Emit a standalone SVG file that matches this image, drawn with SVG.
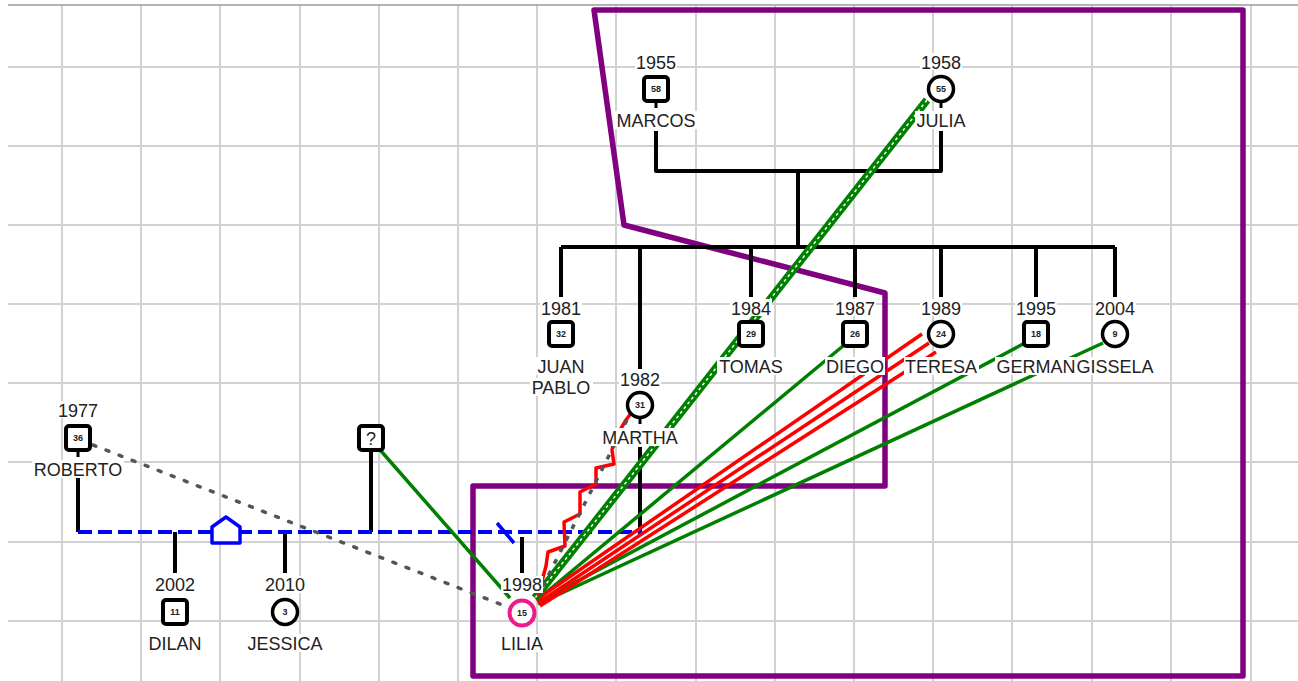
<svg xmlns="http://www.w3.org/2000/svg" width="1298" height="681" viewBox="0 0 1298 681">
<style>
.grid{stroke:#d2d2d2;stroke-width:2;fill:none}
.top{stroke:#9a9a9a;stroke-width:1.5}
.fam{stroke:#000;stroke-width:4;fill:none;stroke-linejoin:round}
.bg{fill:#fff}
.lbl{font-family:"Liberation Sans",Arial,sans-serif;font-size:18px;fill:#222;text-anchor:middle}
.age{font-family:"Liberation Sans",Arial,sans-serif;font-size:9px;font-weight:bold;fill:#222;text-anchor:middle}
.sq{fill:#fff;stroke:#000;stroke-width:4}
.ci{fill:#fff;stroke:#000;stroke-width:3.5}
.stub{stroke:#000;stroke-width:3}
.grn{stroke:#008000;stroke-width:3.5;fill:none}
.band{stroke:#008000;stroke-width:8;fill:none}
.bandc{stroke:#fff;stroke-width:1.5;stroke-dasharray:3 3;fill:none}
.red{stroke:#ff0000;stroke-width:3.5;fill:none;stroke-linejoin:round}
</style>
<rect width="1298" height="681" fill="#fff"/>
<g id="grid">
<path class="grid" d="M62 5V681M141 5V681M220 5V681M300 5V681M379 5V681M458 5V681M537 5V681M616 5V681M696 5V681M775 5V681M854 5V681M933 5V681M1012 5V681M1092 5V681M1171 5V681M1251 5V681M8 67H1298M8 146H1298M8 225H1298M8 304H1298M8 383H1298M8 462H1298M8 542H1298M8 621H1298"/>
<line class="top" x1="8" y1="5" x2="1298" y2="5"/>
</g>
<g id="boundary">
<polygon points="594,10 1243,10 1243,676 473,676 473,486 885,486 885,293 624,225" fill="none" stroke="#800080" stroke-width="5.5" stroke-linejoin="round"/>
</g>
<g id="connectors">
<path class="fam" d="M656 131V171H941V131M798 171V247M561 247H1115M561 247V297M640 247V369M751 247V297M855 247V297M941 247V297M1036 247V297M1115 247V297"/>
<path class="fam" d="M640 447V532M78 478V532M175 532V573M285 532V573M371 452V532M522 537V573"/>
<line x1="78" y1="532" x2="640" y2="532" stroke="#0000ff" stroke-width="4" stroke-dasharray="14 6"/>
<circle cx="640" cy="532" r="2.5" fill="#0000ff"/>
<path d="M212 543V527L226 517L240 527V543Z" fill="#fff" stroke="#0000ff" stroke-width="3.5" stroke-linejoin="round"/>
<line x1="497" y1="523" x2="514" y2="543" stroke="#0000ff" stroke-width="3.5"/>
<line x1="93" y1="445" x2="505" y2="606" stroke="#555" stroke-width="3.5" stroke-dasharray="3 11" stroke-linecap="round"/>
<line class="grn" x1="381" y1="451" x2="510" y2="598"/>
<line class="grn" x1="843" y1="346" x2="537" y2="600"/>
<line class="grn" x1="1023" y1="344" x2="538" y2="602"/>
<line class="grn" x1="1103" y1="343" x2="538" y2="604"/>
<line class="red" x1="922" y1="334" x2="536" y2="600"/>
<line class="red" x1="929" y1="343" x2="538" y2="603"/>
<line class="red" x1="936" y1="352" x2="540" y2="606"/>
<line class="band" x1="927" y1="100" x2="535" y2="598"/>
<line class="bandc" x1="927" y1="100" x2="535" y2="598"/>
<polyline class="red" points="632,412 626,420 620,430 614,440 612,450 614,464 596,468 596,484 580,492 580,514 564,522 565,546 548,552 546,566 538,596"/>
<line x1="627" y1="420" x2="542" y2="588" stroke="#555" stroke-width="3.5" stroke-dasharray="5 8"/>
</g>
<g id="marcos">
<rect class="bg" x="635" y="53" width="42" height="17"/><text class="lbl" x="656" y="68.5">1955</text>
<line class="stub" x1="656" y1="102" x2="656" y2="108"/>
<rect class="sq" x="644" y="77" width="24" height="24" rx="3"/><text class="age" x="656" y="92">58</text>
<rect class="bg" x="615" y="111" width="83" height="18"/><text class="lbl" x="656" y="126.5">MARCOS</text>
</g>
<g id="julia">
<rect class="bg" x="920" y="53" width="42" height="17"/><text class="lbl" x="941" y="68.5">1958</text>
<line class="stub" x1="941" y1="102" x2="941" y2="108"/>
<circle class="ci" cx="941" cy="89" r="12.5"/><text class="age" x="941" y="92">55</text>
<rect class="bg" x="915" y="111" width="53" height="18"/><text class="lbl" x="941" y="126.5">JULIA</text>
</g>
<g id="juanpablo">
<rect class="bg" x="540" y="299" width="42" height="17"/><text class="lbl" x="561" y="314.5">1981</text>
<rect class="sq" x="549" y="322" width="24" height="24" rx="3"/><text class="age" x="561" y="337">32</text>
<rect class="bg" x="536" y="357" width="51" height="18"/><text class="lbl" x="561" y="372.5">JUAN</text>
<rect class="bg" x="530" y="378" width="63" height="18"/><text class="lbl" x="561" y="393.5">PABLO</text>
</g>
<g id="martha">
<rect class="bg" x="619" y="370" width="42" height="17"/><text class="lbl" x="640" y="385.5">1982</text>
<line class="stub" x1="640" y1="418" x2="640" y2="424"/>
<circle class="ci" cx="640" cy="405" r="12.5"/><text class="age" x="640" y="408">31</text>
<rect class="bg" x="600" y="428" width="80" height="18"/><text class="lbl" x="640" y="443.5">MARTHA</text>
</g>
<g id="tomas">
<rect class="bg" x="730" y="299" width="42" height="17"/><text class="lbl" x="751" y="314.5">1984</text>
<rect class="sq" x="739" y="322" width="24" height="24" rx="3"/><text class="age" x="751" y="337">29</text>
<rect class="bg" x="717" y="357" width="68" height="18"/><text class="lbl" x="751" y="372.5">TOMAS</text>
</g>
<g id="diego">
<rect class="bg" x="834" y="299" width="42" height="17"/><text class="lbl" x="855" y="314.5">1987</text>
<rect class="sq" x="843" y="322" width="24" height="24" rx="3"/><text class="age" x="855" y="337">26</text>
<rect class="bg" x="825" y="357" width="60" height="18"/><text class="lbl" x="855" y="372.5">DIEGO</text>
</g>
<g id="teresa">
<rect class="bg" x="920" y="299" width="42" height="17"/><text class="lbl" x="941" y="314.5">1989</text>
<circle class="ci" cx="941" cy="334" r="12.5"/><text class="age" x="941" y="337">24</text>
<rect class="bg" x="904" y="357" width="75" height="18"/><text class="lbl" x="941" y="372.5">TERESA</text>
</g>
<g id="german">
<rect class="bg" x="1015" y="299" width="42" height="17"/><text class="lbl" x="1036" y="314.5">1995</text>
<rect class="sq" x="1024" y="322" width="24" height="24" rx="3"/><text class="age" x="1036" y="337">18</text>
<rect class="bg" x="995" y="357" width="82" height="18"/><text class="lbl" x="1036" y="372.5">GERMAN</text>
</g>
<g id="gissela">
<rect class="bg" x="1094" y="299" width="42" height="17"/><text class="lbl" x="1115" y="314.5">2004</text>
<circle class="ci" cx="1115" cy="334" r="12.5"/><text class="age" x="1115" y="337">9</text>
<rect class="bg" x="1075" y="357" width="80" height="18"/><text class="lbl" x="1115" y="372.5">GISSELA</text>
</g>
<g id="roberto">
<rect class="bg" x="57" y="401" width="42" height="17"/><text class="lbl" x="78" y="416.5">1977</text>
<line class="stub" x1="78" y1="451" x2="78" y2="457"/>
<rect class="sq" x="66" y="426" width="24" height="24" rx="3"/><text class="age" x="78" y="441">36</text>
<rect class="bg" x="32" y="460" width="92" height="18"/><text class="lbl" x="78" y="475.5">ROBERTO</text>
</g>
<g id="unknown">
<rect class="sq" x="359" y="426" width="24" height="24" rx="3"/><text class="lbl" x="371" y="445">?</text>
</g>
<g id="dilan">
<rect class="bg" x="154" y="576" width="42" height="17"/><text class="lbl" x="175" y="590.5">2002</text>
<rect class="sq" x="163" y="600" width="24" height="24" rx="3"/><text class="age" x="175" y="615">11</text>
<rect class="bg" x="148" y="634" width="55" height="18"/><text class="lbl" x="175" y="649.5">DILAN</text>
</g>
<g id="jessica">
<rect class="bg" x="264" y="576" width="42" height="17"/><text class="lbl" x="285" y="590.5">2010</text>
<circle class="ci" cx="285" cy="612" r="12.5"/><text class="age" x="285" y="615">3</text>
<rect class="bg" x="246" y="634" width="78" height="18"/><text class="lbl" x="285" y="649.5">JESSICA</text>
</g>
<g id="lilia">
<rect class="bg" x="501" y="576" width="42" height="17"/><text class="lbl" x="522" y="590.5">1998</text>
<circle cx="522" cy="613" r="12.5" fill="#fff" stroke="#ec1c8c" stroke-width="4"/><text class="age" x="522" y="616">15</text>
<rect class="bg" x="500" y="634" width="44" height="18"/><text class="lbl" x="522" y="649.5">LILIA</text>
</g>
</svg>
